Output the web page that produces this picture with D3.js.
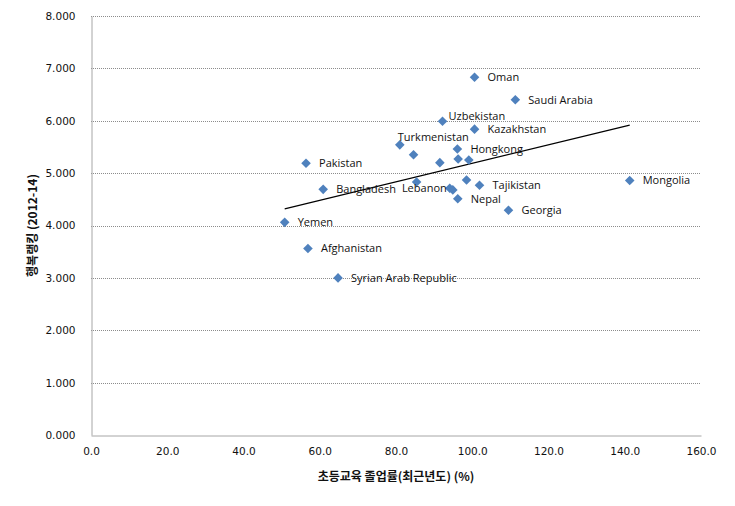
<!DOCTYPE html>
<html>
<head>
<meta charset="utf-8">
<script src="https://cdn.jsdelivr.net/npm/d3@7"></script>
<style>
  html, body { margin: 0; padding: 0; background: #fff; }
  svg { display: block; }
</style>
</head>
<body>
<script>
// ---- data ----
const countries = ["Oman","Saudi Arabia","Uzbekistan","Kazakhstan","Turkmenistan","","Hongkong","","","","Pakistan","","","Tajikistan","Bangladesh","Lebanon","","Nepal","Georgia","Mongolia","Yemen","Afghanistan","Syrian Arab Republic"];
const graduationRate = [100.6,111.3,92.2,100.6,81.0,84.6,96.1,96.3,99.1,91.5,56.4,85.4,98.5,101.9,60.9,94.1,94.9,96.2,109.5,141.3,50.8,56.9,64.8];
const happiness = [6.83,6.40,5.99,5.84,5.54,5.35,5.46,5.27,5.25,5.20,5.19,4.83,4.87,4.77,4.69,4.71,4.68,4.51,4.29,4.86,4.06,3.56,3.00];
const xTicks = [0,20,40,60,80,100,120,140,160];
const yTicks = [0,1,2,3,4,5,6,7,8];
const xTitle = "초등교육 졸업률(최근년도) (%)";
const yTitle = "행복랭킹 (2012-14)";

// label placement (styling, separate from data)
const labelPlacement = {
  "Uzbekistan": {dx: 6, dy: -5, anchor: "start"},
  "Turkmenistan": {dx: -2, dy: -8, anchor: "start"},
  "Lebanon": {dx: -3, dy: 0, anchor: "end"}
};

const W = 735, H = 506;
const M = {left: 91, right: 34, top: 16, bottom: 71};
const svg = d3.select("body").append("svg").attr("width", W).attr("height", H);

const x = d3.scaleLinear().domain([0,160]).range([M.left, W - M.right]);
const y = d3.scaleLinear().domain([0,8]).range([H - M.bottom, M.top]);

// gridlines
svg.append("g").selectAll("line").data(yTicks.filter(d => d > 0)).join("line")
  .attr("x1", x(0)).attr("x2", x(160))
  .attr("y1", d => Math.round(y(d)) + 0.5).attr("y2", d => Math.round(y(d)) + 0.5)
  .attr("stroke", "#8c8c8c").attr("stroke-width", 1).attr("stroke-dasharray", "1,1");

// axes
const xAxis = d3.axisBottom(x).tickValues(xTicks).tickFormat(d3.format(".1f")).tickSize(0).tickPadding(12);
const yAxis = d3.axisLeft(y).tickValues(yTicks).tickFormat(d3.format(".3f")).tickSize(0).tickPadding(16);

const gx = svg.append("g").attr("transform", `translate(0,${Math.round(y(0)) + 0.5})`).call(xAxis);
const gy = svg.append("g").attr("transform", `translate(${x(0) + 0.5},0)`).call(yAxis);
[gx, gy].forEach(g => {
  g.select(".domain").attr("stroke", "#a6a6a6").attr("stroke-width", 1);
  g.selectAll("text").attr("font-family", "'DejaVu Sans', Verdana, sans-serif").attr("font-size", "10.5px").attr("fill", "#111");
});

// trend line (least squares)
const n = graduationRate.length;
const mx = d3.mean(graduationRate), my = d3.mean(happiness);
let sxy = 0, sxx = 0;
for (let i = 0; i < n; i++) { sxy += (graduationRate[i]-mx)*(happiness[i]-my); sxx += (graduationRate[i]-mx)**2; }
const slope = sxy / sxx, intercept = my - slope * mx;
const [x0, x1] = d3.extent(graduationRate);
svg.append("line")
  .attr("x1", x(x0)).attr("y1", y(intercept + slope * x0))
  .attr("x2", x(x1)).attr("y2", y(intercept + slope * x1))
  .attr("stroke", "#000").attr("stroke-width", 1.2);

// points
const pts = graduationRate.map((v, i) => ({x: v, y: happiness[i], name: countries[i]}));
svg.append("g").selectAll("path").data(pts).join("path")
  .attr("d", d3.symbol().type(d3.symbolSquare).size(46))
  .attr("transform", d => `translate(${x(d.x)},${y(d.y)}) rotate(45)`)
  .attr("fill", "#4f81bd");

// labels
svg.append("g").selectAll("text").data(pts.filter(d => d.name)).join("text")
  .attr("x", d => x(d.x) + (labelPlacement[d.name] ? labelPlacement[d.name].dx : 13))
  .attr("y", d => y(d.y) + (labelPlacement[d.name] ? labelPlacement[d.name].dy : 0))
  .attr("dy", "0.35em")
  .attr("text-anchor", d => labelPlacement[d.name] ? labelPlacement[d.name].anchor : "start")
  .attr("font-family", "'Open Sans', sans-serif").attr("font-size", "11px").attr("fill", "#111")
  .text(d => d.name);

// axis titles
svg.append("text")
  .attr("x", (x(0) + x(160)) / 2).attr("y", 477).attr("dy", "0.35em")
  .attr("text-anchor", "middle")
  .attr("font-family", "'Noto Sans CJK KR', sans-serif").attr("font-weight", "bold").attr("font-size", "12px").attr("fill", "#111")
  .text(xTitle);
svg.append("text")
  .attr("transform", `translate(33,${(y(0)+y(8))/2}) rotate(-90)`).attr("dy", "0.35em")
  .attr("text-anchor", "middle")
  .attr("font-family", "'Noto Sans CJK KR', sans-serif").attr("font-weight", "bold").attr("font-size", "12px").attr("fill", "#111")
  .text(yTitle);
</script>
</body>
</html>
